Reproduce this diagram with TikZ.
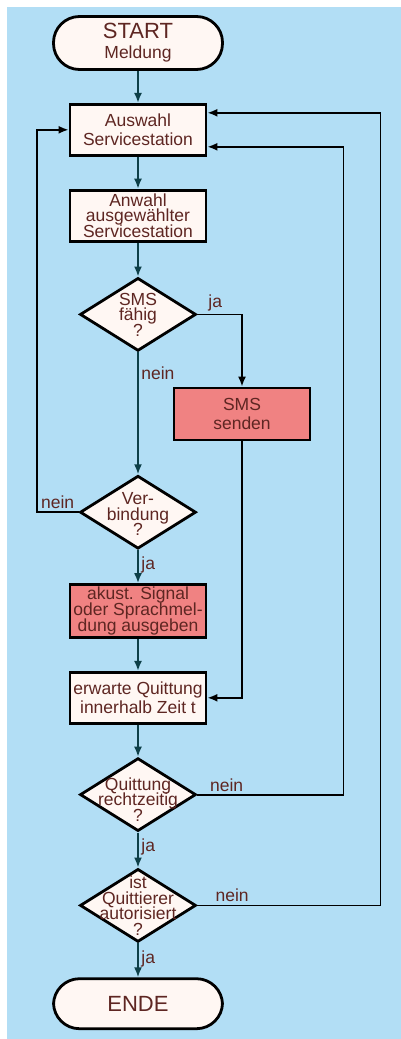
\documentclass[tikz,border=0pt]{standalone}
\usepackage{fontspec}
\setmainfont{Liberation Sans}
\usetikzlibrary{positioning,shapes.geometric,arrows.meta}
\definecolor{bgblue}{HTML}{B2DEF5}
\definecolor{boxwhite}{HTML}{FFF7F3}
\definecolor{boxred}{HTML}{F08282}
\definecolor{txtbrown}{HTML}{5E2622}
\definecolor{flowteal}{HTML}{0D3F48}
\newcommand{\boxfont}[1]{\fontsize{17.5}{#1}\selectfont\lineskiplimit=-20pt}
\tikzstyle{terminal} = [rectangle, 
    rounded corners=26pt, 
    draw=black, line width=2.8pt,
    fill=boxwhite,
    minimum width=169pt, 
    minimum height=53pt,
    text=txtbrown,
    align=center,
    font=\boxfont{20}]
\tikzstyle{process} = [rectangle, 
    draw=black, line width=2.8pt,
    fill=boxwhite,
    minimum width=136pt, 
    minimum height=51pt,
    inner sep=2pt,
    text=txtbrown,
    align=center,
    font=\boxfont{18.5}]
\tikzstyle{decision} = [diamond, 
    draw=black, line width=2.8pt,
    fill=boxwhite,
    minimum width=116pt, 
    minimum height=73pt,
    inner sep=0pt]
\tikzstyle{arrow} = [line width=1.8pt,-{Latex[length=10pt,width=8pt]}]

\begin{document}
\begin{tikzpicture}[x=1pt, y=1pt,
    lbl/.style={text=txtbrown, font=\boxfont{18}, inner sep=2.5pt},
    dtext/.style={text=txtbrown, align=center, font=\boxfont{15.5}},
    flow/.style={arrow, draw=flowteal},
    loopline/.style={arrow, draw=black}
    ]
  \useasboundingbox (0,0) rectangle (401,-1039);
  \fill[bgblue] (7,-7) rectangle (401,-1039);
  % main chain
  \node [terminal] (start) at (138,-43) {{\fontsize{22}{24}\selectfont START}\\Meldung};
  \node [process, below=32pt of start] (auswahl) {Auswahl\\Servicestation};
  \node [process, font=\boxfont{15.5}, below=32pt of auswahl] (anwahl) {Anwahl\\ausgewählter\\Servicestation};
  \node [decision, below=34pt of anwahl] (sms) {};
  \node [dtext] (smsT) at (sms) {SMS\\fähig\\?};
  \node [process, fill=boxred, minimum height=52pt] (smsout) at (242,-414) {SMS\\senden};
  \node [decision, below=122pt of sms] (verb) {};
  \node [dtext] (verbT) at ([yshift=-2pt]verb.center) {Ver-\\bindung\\?};
  \node [process, fill=boxred, font=\boxfont{16}, minimum height=53pt, below=33pt of verb] (akust) {akust. Signal\\oder Sprachmel-\\dung ausgeben};
  \node [process, below=32pt of akust] (erwarte) {erwarte Quittung\\innerhalb Zeit t};
  \node [decision, below=32pt of erwarte] (quitt) {};
  \node [dtext] (quittT) at ([yshift=-5pt]quitt.center) {Quittung\\rechtzeitig\\?};
  \node [decision, below=35pt of quitt] (autor) {};
  \node [dtext] (autorT) at (autor) {ist\\Quittierer\\autorisiert\\?};
  \node [terminal, minimum height=50pt, below=34pt of autor] (ende) {\fontsize{22}{24}\selectfont ENDE};
  % connectors
  \draw [flow] (start) -- (auswahl);
  \draw [flow] (auswahl) -- (anwahl);
  \draw [flow] (anwahl) -- (sms);
  \draw [flow] (sms) -- node[lbl, right, pos=.17] {nein} (verb);
  \draw [flow] (verb) -- node[lbl, right, pos=.45] {ja} (akust);
  \draw [flow] (akust) -- (erwarte);
  \draw [flow] (erwarte) -- (quitt);
  \draw [flow] (quitt) -- node[lbl, right, pos=.4] {ja} (autor);
  \draw [flow] (autor) -- node[lbl, right, pos=.47] {ja} (ende);
  \draw [loopline] (sms.east) -| node[lbl, above, pos=.2] {ja} (smsout.north);
  \draw [loopline] (smsout.south) |- (erwarte.east);
  \draw [loopline] (verb.west) -- node[lbl, above] {nein} ++(-42,0) |- (auswahl.west);
  \draw [loopline] (quitt.east) -- node[lbl, above, pos=.2] {nein} ++(146,0) |- ([yshift=-17pt]auswahl.east);
  \draw [loopline] (autor.east) -- node[lbl, above, pos=.19] {nein} ++(183,0) |- ([yshift=17pt]auswahl.east);
\end{tikzpicture}
\end{document}
